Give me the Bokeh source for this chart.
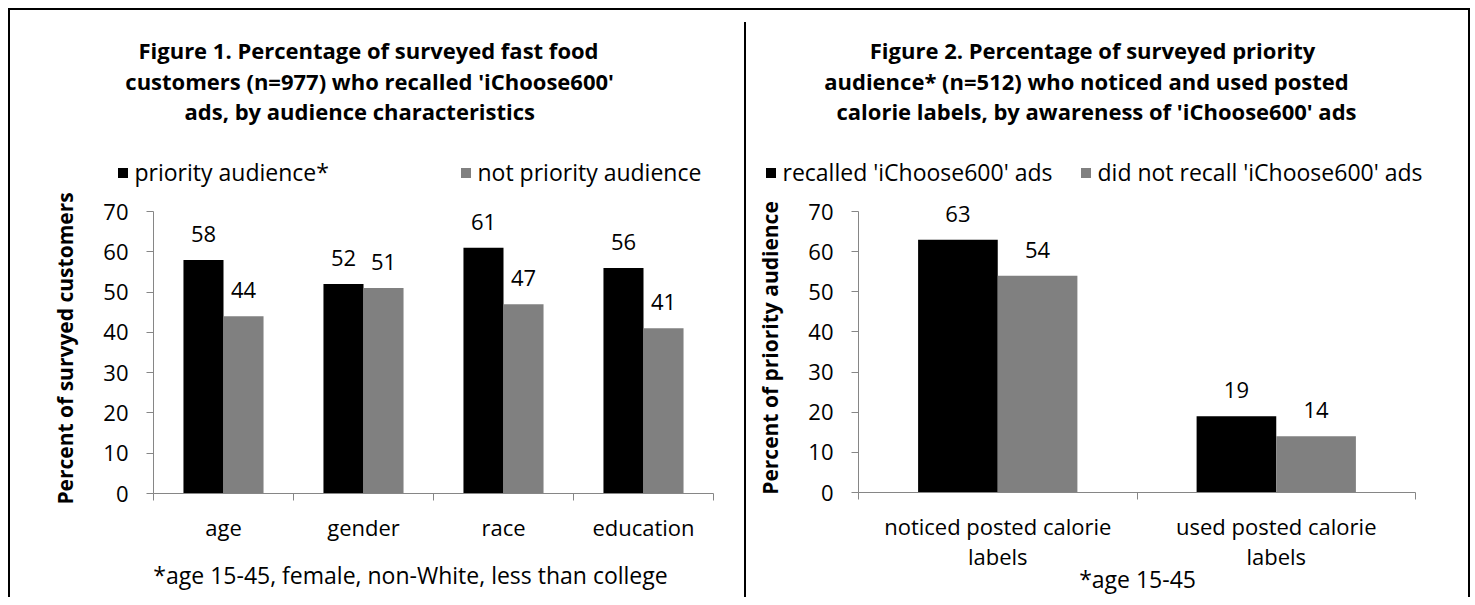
from bokeh.plotting import figure
from bokeh.models import (Range1d, FixedTicker, ColumnDataSource, LabelSet, Label, Legend,
                          LegendItem, Div, LinearAxis)
from bokeh.core.properties import value
from bokeh.transform import dodge
from bokeh.layouts import row, column
from bokeh.embed import file_html
from bokeh.resources import INLINE

# ---------------- data ----------------
cats1 = ["age", "gender", "race", "education"]
priority = [58, 52, 61, 56]
not_priority = [44, 51, 47, 41]
series1 = ["priority audience*", "not priority audience"]
title1 = ["Figure 1. Percentage of surveyed fast food",
          "customers  (n=977) who recalled 'iChoose600'",
          "ads,  by  audience characteristics"]
ylabel1 = "Percent of survyed customers"
note1 = "*age 15-45, female, non-White, less than college"

cats2 = ["noticed posted calorie\nlabels", "used posted calorie\nlabels"]
recalled = [63, 19]
not_recalled = [54, 14]
series2 = ["recalled 'iChoose600' ads", "did not recall 'iChoose600' ads"]
title2 = ["Figure 2. Percentage of surveyed priority",
          "audience* (n=512) who noticed and used posted",
          "calorie labels, by awareness of 'iChoose600' ads"]
ylabel2 = "Percent of priority audience"
note2 = "*age 15-45"

yticks = [0, 10, 20, 30, 40, 50, 60, 70]

# ---------------- style ----------------
FONT = "Open Sans"
FS = "22px"           # ticks, values, categories
LFS = "23px"          # legend, footnote
TFS = "22px"          # title
YLFS = "21px"         # y axis title
AXIS = "#868686"
C1 = "#000000"
C2 = "#808080"
TOP = 10              # page y where the panels start (below top border)
HEAD_BOT = 188        # page y where the chart figure starts
BOT = 597             # page y where the panels end
FRAME_BOT = 493       # page y of value 0
YMAX = 70
YTOP = 72             # room above 70 so value labels are not clipped
PX_PER = 282 / 70     # px per percent
FRAME_TOP = round(FRAME_BOT - YTOP * PX_PER)
BAR_W = 0.286
BORDER = 2
BASE_FIX = 8          # alphabetic baseline correction


def blank(width, y0, y1, x0, x1):
    """A figure without axes whose frame is its whole canvas, in page pixels."""
    f = figure(width=width, height=y1 - y0, x_range=Range1d(x0, x1),
               y_range=Range1d(y1, y0), output_backend="svg", toolbar_location=None,
               x_axis_location=None, y_axis_location=None, min_border=0,
               background_fill_color="white", border_fill_color="white",
               frame_align=False)
    f.outline_line_color = None
    f.grid.visible = False
    return f


def make_panel(cats, a, b, names, title_lines, ylabel, note, page_left, page_right,
               f_left, f_right, title_cx, title_base, leg_sq, note_cx, note_standoff):
    width = page_right - page_left
    n = len(cats)
    centers = [i + 0.5 for i in range(n)]

    # ---- header: title + legend
    head = blank(width, TOP, HEAD_BOT, page_left, page_right)
    for t, cx, base in zip(title_lines, title_cx, title_base):
        head.add_layout(Label(x=cx, y=base - BASE_FIX, text=t, text_align="center",
                              text_baseline="alphabetic", text_font=FONT,
                              text_font_style="bold", text_font_size=TFS,
                              text_color="black"))
    ka = head.scatter(x=[-1000], y=[50], marker="square", size=10,
                      fill_color=C1, line_color=None)
    kb = head.scatter(x=[-1000], y=[50], marker="square", size=10,
                      fill_color=C2, line_color=None)
    leg_h = 30
    gw = 25                                   # legend marker = 0.4 * 25 = 10 px
    box0 = leg_sq[0] + 5 - gw / 2             # glyph box left of item 1
    box1 = leg_sq[1] + 5 - gw / 2             # glyph box left of item 2
    lg = Legend(items=[LegendItem(label=names[0], renderers=[ka]),
                       LegendItem(label=names[1], renderers=[kb])],
                location=(box0 - page_left, HEAD_BOT - (173 + leg_h / 2)),
                orientation="horizontal", padding=0, margin=0, spacing=0,
                border_line_color=None, background_fill_alpha=0,
                glyph_width=gw, glyph_height=gw, label_standoff=0, label_height=leg_h,
                label_width=int(box1 - box0 - gw),
                label_text_font=FONT, label_text_font_size=LFS, label_text_align="left",
                label_text_color="black")
    head.add_layout(lg, "center")

    # ---- chart
    p = figure(width=width, height=BOT - HEAD_BOT, x_range=Range1d(0, n),
               y_range=Range1d(0, YTOP), output_backend="svg", toolbar_location=None,
               min_border_left=f_left - page_left, min_border_right=page_right - f_right,
               min_border_top=FRAME_TOP - HEAD_BOT, min_border_bottom=BOT - FRAME_BOT,
               background_fill_color="white", border_fill_color="white",
               frame_align=False)
    p.outline_line_color = None
    p.grid.visible = False

    src = ColumnDataSource(dict(x=centers, cat=cats, a=a, b=b,
                                at=[str(v) for v in a], bt=[str(v) for v in b]))
    p.vbar(x=dodge("x", -BAR_W / 2), top="a", width=BAR_W,
           source=src, fill_color=C1, line_color=None)
    p.vbar(x=dodge("x", BAR_W / 2), top="b", width=BAR_W,
           source=src, fill_color=C2, line_color=None)

    for col, txt, off in (("a", "at", -BAR_W / 2), ("b", "bt", BAR_W / 2)):
        p.add_layout(LabelSet(x=dodge("x", off), y=col, text=txt,
                              source=src, text_align="center", text_baseline="middle",
                              y_offset=26, text_font=value(FONT), text_font_size=value(FS),
                              text_color="black"))

    ya = p.yaxis[0]
    ya.ticker = FixedTicker(ticks=yticks)
    ya.bounds = (0, YMAX)
    ya.axis_line_color = AXIS
    ya.major_tick_line_color = AXIS
    ya.major_tick_in = 0
    ya.major_tick_out = 7
    ya.minor_tick_line_color = None
    ya.major_label_text_font = FONT
    ya.major_label_text_font_size = FS
    ya.major_label_text_color = "black"
    ya.major_label_standoff = 18
    ya.axis_label = ylabel
    ya.axis_label_text_font = FONT
    ya.axis_label_text_font_style = "bold"
    ya.axis_label_text_font_size = YLFS
    ya.axis_label_text_color = "black"
    ya.axis_label_standoff = 21

    xa = p.xaxis[0]
    xa.ticker = FixedTicker(ticks=centers, minor_ticks=list(range(n + 1)))
    xa.major_label_overrides = {c: name for c, name in zip(centers, cats)}
    xa.axis_line_color = AXIS
    xa.major_tick_line_color = None
    xa.minor_tick_line_color = AXIS
    xa.minor_tick_in = 0
    xa.minor_tick_out = 7
    xa.major_tick_out = 7
    xa.major_tick_in = 0
    xa.major_label_text_font = FONT
    xa.major_label_text_font_size = FS
    xa.major_label_text_color = "black"
    xa.major_label_standoff = 11
    xa.major_label_text_line_height = 1.0

    # ---- footnote, as a label-only axis below the category axis
    note_pos = round((note_cx - f_left) / (f_right - f_left) * n, 3)
    na = LinearAxis(ticker=FixedTicker(ticks=[note_pos]),
                    major_label_overrides={note_pos: note},
                    axis_line_color=None, major_tick_line_color=None,
                    minor_tick_line_color=None, major_tick_in=0, major_tick_out=0,
                    minor_tick_in=0, minor_tick_out=0,
                    major_label_standoff=note_standoff, major_label_text_font=FONT,
                    major_label_text_font_size=LFS, major_label_text_color="black")
    p.add_layout(na, "below")
    return column(head, p, spacing=0)


def bar(w, h, mt=0):
    return Div(text="", width=w, height=h, margin=(mt, 0, 0, 0),
               styles={"background-color": "black"})


panel1 = make_panel(cats1, priority, not_priority, series1, title1, ylabel1, note1,
                    page_left=10, page_right=744, f_left=153, f_right=713,
                    title_cx=(368, 372, 365), title_base=(57, 88, 118), leg_sq=(117, 460),
                    note_cx=410, note_standoff=14)
panel2 = make_panel(cats2, recalled, not_recalled, series2, title2, ylabel2, note2,
                    page_left=746, page_right=1468, f_left=858, f_right=1415,
                    title_cx=(1092, 1086, 1096), title_base=(57, 88, 118), leg_sq=(765, 1080),
                    note_cx=1137, note_standoff=-11)

H = BOT - TOP
body = row(bar(BORDER, H), panel1, bar(BORDER, BOT - 22, mt=22 - TOP), panel2,
           bar(BORDER, H), spacing=0)
layout = column(bar(2 * BORDER + 734 + 2 + 722, BORDER), body, spacing=0,
                margin=(8, 0, 0, 8))
open("out.html", "w").write(file_html(layout, INLINE))
